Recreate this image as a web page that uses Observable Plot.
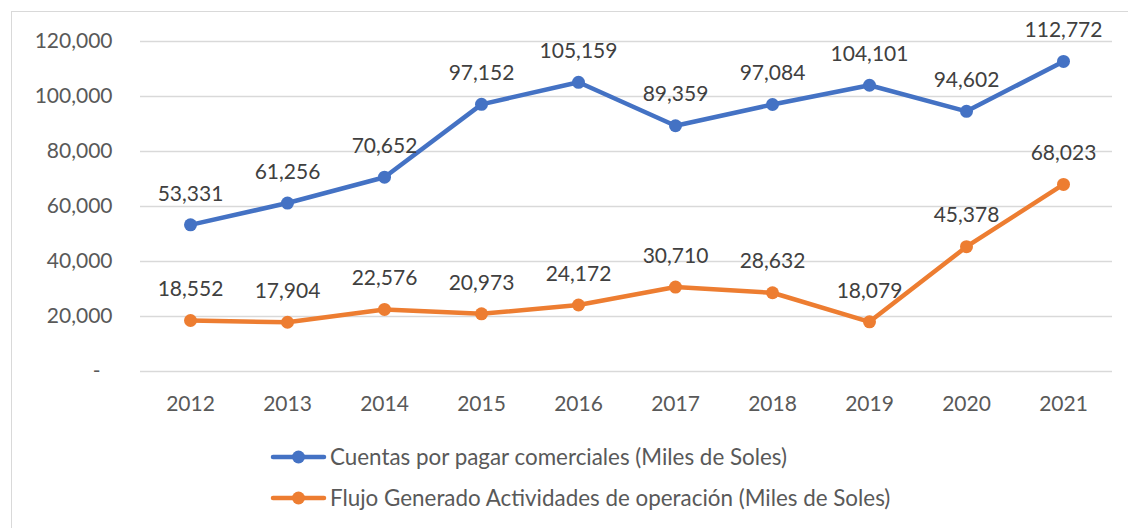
<!DOCTYPE html>
<html>
<head>
<meta charset="utf-8">
<script src="https://cdn.jsdelivr.net/npm/d3@7"></script>
<script src="https://cdn.jsdelivr.net/npm/@observablehq/plot@0.6"></script>
<style>
  body { margin: 0; background: #fff; font-family: Lato, "Open Sans", sans-serif; }
  #frame { position: absolute; left: 11px; top: 11px; width: 1200px; height: 600px; border: 1.5px solid #d9d9d9; box-sizing: border-box; pointer-events: none; }
  #chart { position: absolute; left: 0; top: 0; }
  #legend { position: absolute; left: 270px; top: 436px; color: #595959; font-size: 22.4px; }
  .item { display: flex; align-items: center; height: 41px; }
  .item svg { margin-right: 3px; }
</style>
</head>
<body>
<div id="frame"></div>
<div id="chart"></div>
<div id="legend"></div>
<script>
const years = ["2012","2013","2014","2015","2016","2017","2018","2019","2020","2021"];
const cuentas = [53331, 61256, 70652, 97152, 105159, 89359, 97084, 104101, 94602, 112772];
const flujo = [18552, 17904, 22576, 20973, 24172, 30710, 28632, 18079, 45378, 68023];
const yTicks = [20000, 40000, 60000, 80000, 100000, 120000];
const seriesNames = ["Cuentas por pagar comerciales (Miles de Soles)", "Flujo Generado Actividades de operación (Miles de Soles)"];
const colors = ["#4472C4", "#ED7D31"];

const data = [];
years.forEach((y, i) => {
  data.push({year: y, value: cuentas[i], s: seriesNames[0]});
  data.push({year: y, value: flujo[i], s: seriesNames[1]});
});
const fmt = d3.format(",");
const FS = 21;

const chart = Plot.plot({
  width: 1128,
  height: 420,
  marginLeft: 140,
  marginRight: 16,
  marginTop: 41,
  marginBottom: 49,
  style: {fontFamily: "Lato, 'Open Sans', sans-serif", fontSize: FS + "px", color: "#595959", background: "transparent", overflow: "visible"},
  x: {type: "point", domain: years, padding: 0.5, label: null, axis: null},
  y: {domain: [0, 120000], label: null, axis: null},
  color: {domain: seriesNames, range: colors},
  marks: [
    Plot.gridY([0, ...yTicks], {stroke: "#d9d9d9", strokeOpacity: 1, strokeWidth: 1.5}),
    Plot.axisX({tickSize: 0, tickPadding: 25, fontSize: FS, fill: "#595959", label: null}),
    Plot.text(yTicks, {y: d => d, text: d => fmt(d), frameAnchor: "left", dx: -28, textAnchor: "end", fill: "#595959", fontSize: FS}),
    Plot.text([0], {y: d => d, text: () => "-", frameAnchor: "left", dx: -40, textAnchor: "end", fill: "#595959", fontSize: FS}),
    Plot.line(data, {x: "year", y: "value", stroke: "s", z: "s", strokeWidth: 4.5, strokeLinecap: "round", strokeLinejoin: "round"}),
    Plot.dot(data, {x: "year", y: "value", fill: "s", r: 6.5, stroke: null}),
    Plot.text(data, {x: "year", y: "value", text: d => fmt(d.value), dy: -31, fill: "#404040", fontSize: FS})
  ]
});
document.getElementById("chart").appendChild(chart);

const legend = document.getElementById("legend");
seriesNames.forEach((n, i) => {
  const div = document.createElement("div");
  div.className = "item";
  div.innerHTML = `<svg width="57" height="16"><line x1="3" y1="8" x2="54" y2="8" stroke="${colors[i]}" stroke-width="4.5" stroke-linecap="round"/><circle cx="28.5" cy="8" r="6.5" fill="${colors[i]}"/></svg><span>${n}</span>`;
  legend.appendChild(div);
});
</script>
</body>
</html>
